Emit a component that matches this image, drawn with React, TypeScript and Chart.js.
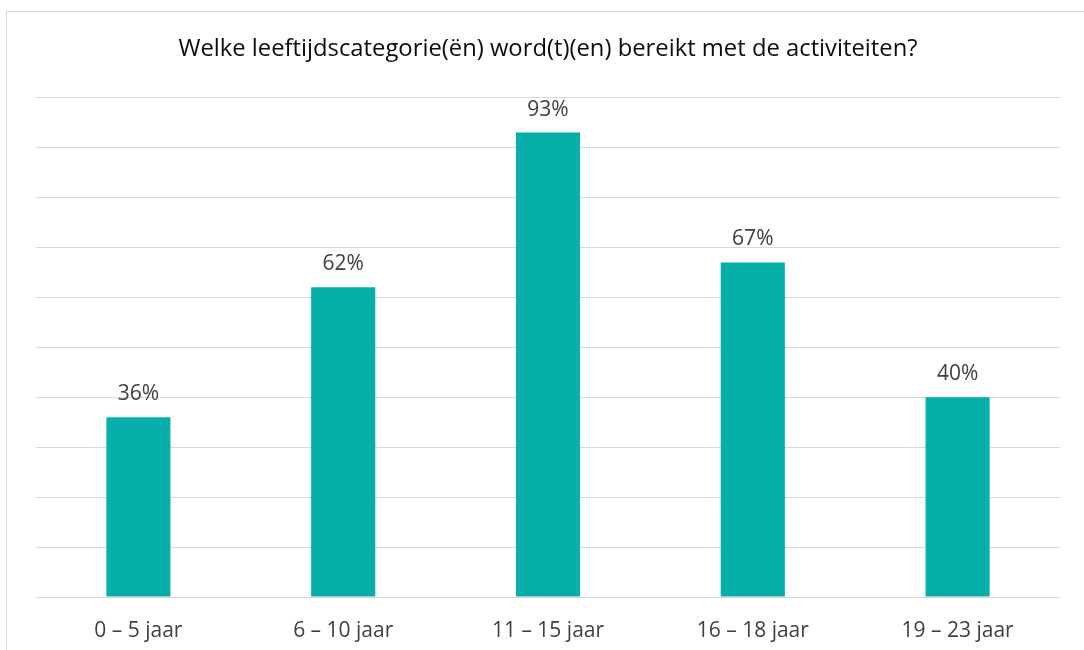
import React, { useEffect, useRef } from "react";
import { Chart, registerables } from "chart.js";

Chart.register(...registerables);

const categories = ["0 – 5 jaar", "6 – 10 jaar", "11 – 15 jaar", "16 – 18 jaar", "19 – 23 jaar"];
const values = [36, 62, 93, 67, 40];
const titleText = "Welke leeftijdscategorie(ën) word(t)(en) bereikt met de activiteiten?";
const FONT = "'Open Sans', 'Noto Sans', sans-serif";

const framePlugin = {
  id: "frame",
  beforeDraw(chart: any) {
    const ctx = chart.ctx;
    ctx.save();
    ctx.strokeStyle = "#d9d9d9";
    ctx.lineWidth = 1;
    ctx.beginPath();
    ctx.moveTo(6.5, chart.height);
    ctx.lineTo(6.5, 11.5);
    ctx.lineTo(chart.width, 11.5);
    ctx.stroke();
    ctx.restore();
  },
};

const labelPlugin = {
  id: "barLabels",
  afterDatasetsDraw(chart: any) {
    const ctx = chart.ctx;
    const meta = chart.getDatasetMeta(0);
    ctx.save();
    ctx.fillStyle = "#404040";
    ctx.font = `21px ${FONT}`;
    ctx.textAlign = "center";
    ctx.textBaseline = "middle";
    meta.data.forEach((bar: any, i: number) => {
      ctx.fillText(values[i] + "%", bar.x, bar.y - 23);
    });
    ctx.restore();
  },
};

export default function App() {
  const ref = useRef<HTMLCanvasElement>(null);
  useEffect(() => {
    if (!ref.current) return;
    const chart = new Chart(ref.current, {
      type: "bar",
      data: {
        labels: categories,
        datasets: [
          {
            data: values,
            backgroundColor: "#06AFAA",
            barPercentage: 0.313,
            categoryPercentage: 1,
          },
        ],
      },
      options: {
        animation: false,
        responsive: false,
        maintainAspectRatio: false,
        layout: { padding: { left: 36, right: 24, top: 0, bottom: 0 } },
        plugins: {
          legend: { display: false },
          tooltip: { enabled: false },
          title: {
            display: true,
            text: titleText,
            color: "#0d0d0d",
            font: { family: FONT, size: 23.8, weight: "normal" },
            padding: { top: 35, bottom: 34 },
          },
        },
        scales: {
          y: {
            min: 0,
            max: 100,
            ticks: { display: false, stepSize: 10 },
            grid: { color: "#d9d9d9", lineWidth: 1, drawTicks: false },
            border: { display: false },
            afterFit(scale: any) {
              scale.width = 0;
            },
          },
          x: {
            grid: { display: false },
            border: { display: false },
            ticks: {
              color: "#404040",
              font: { family: FONT, size: 21 },
              padding: 13,
            },
            afterFit(scale: any) {
              scale.height = 53;
            },
          },
        },
      },
      plugins: [framePlugin, labelPlugin],
    });
    return () => chart.destroy();
  }, []);
  return (
    <div style={{ position: "fixed", left: 0, top: 0, width: 1084, height: 650, background: "#fff" }}>
      <canvas ref={ref} width={1084} height={650} style={{ display: "block" }} />
    </div>
  );
}
